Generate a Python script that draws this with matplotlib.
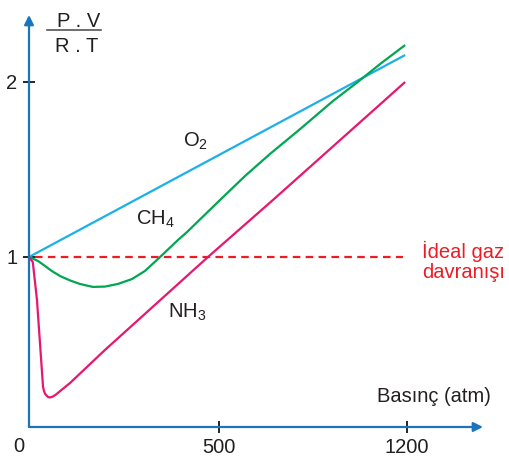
import numpy as np
import matplotlib
matplotlib.use("Agg")
import matplotlib.pyplot as plt
from matplotlib.lines import Line2D

plt.rcParams['font.family'] = ['Liberation Sans', 'DejaVu Sans']
plt.rcParams['mathtext.fontset'] = 'custom'
plt.rcParams['mathtext.rm'] = 'Liberation Sans'
plt.rcParams['mathtext.it'] = 'Liberation Sans'

# data (pressure in atm, PV/RT)
o2_p = [0, 1193]
o2_z = [1.0, 2.154]

ch4_p = [0, 24, 42, 60, 82, 108, 134, 168, 200, 234, 271, 305, 342, 392, 416,
         504, 597, 690, 802, 924, 1014, 1100, 1193]
ch4_z = [1.0, 0.977, 0.949, 0.92, 0.891, 0.866, 0.846, 0.829, 0.831, 0.846, 0.874,
         0.92, 0.994, 1.097, 1.143, 1.326, 1.463, 1.589, 1.731, 1.891, 1.997,
         2.103, 2.211]

nh3_p = [0, 10, 21, 32, 37, 39.5, 42, 45, 50, 55, 63, 71, 82, 108, 200, 471, 701,
         1118, 1193]
nh3_z = [1.0, 0.971, 0.754, 0.411, 0.257, 0.234, 0.22, 0.211, 0.2, 0.197, 0.203,
         0.214, 0.234, 0.28, 0.469, 1.0, 1.326, 1.897, 2.0]

ideal_p = [16, 1185]
ideal_z = [1.0, 1.0]

x_ticks = [500, 1200]
x_labels = ["500", "1200"]
y_ticks = [1, 2]
y_labels = ["1", "2"]

BLUE_AX = "#1b75bc"
C_O2 = "#1cb0ea"
C_CH4 = "#00a651"
C_NH3 = "#e6176f"
C_IDEAL = "#ec1c24"
TXT = "#231f20"


# the pressure axis of the drawing is not linear
def fwd(x):
    x = np.asarray(x, float)
    return np.where(x <= 500, x * 190 / 500, 190 + (x - 500) * 188 / 700)


def inv(p):
    p = np.asarray(p, float)
    return np.where(p <= 190, p * 500 / 190, 500 + (p - 190) * 700 / 188)


W, H = 509, 462
fig = plt.figure(figsize=(W / 100, H / 100), dpi=100)
ax = fig.add_axes([0, 0, 1, 1])
ax.set_xscale('function', functions=(fwd, inv))
ax.set_xlim(float(inv(-29)), float(inv(480)))
ax.set_ylim(-30 / 175, (H - 30) / 175)

y_base = (432 - 427) / 175

for s in ax.spines.values():
    s.set_visible(False)
ax.spines['left'].set_position(('data', 0))
ax.spines['bottom'].set_position(('data', y_base))

# axes with arrows
ax.annotate("", xy=(float(inv(454)), y_base), xytext=(0, y_base),
            arrowprops=dict(arrowstyle='-|>', color=BLUE_AX, lw=1.6,
                            mutation_scale=14, shrinkA=0, shrinkB=0))
ax.annotate("", xy=(0, (462 - 15 - 30) / 175), xytext=(0, y_base),
            arrowprops=dict(arrowstyle='-|>', color=BLUE_AX, lw=1.6,
                            mutation_scale=14, shrinkA=0, shrinkB=0))

ax.plot(ideal_p, ideal_z, color=C_IDEAL, lw=1.6, ls=(0, (3.4, 2.4)))
ax.plot(o2_p, o2_z, color=C_O2, lw=1.6, solid_capstyle='butt')
ax.plot(ch4_p, ch4_z, color=C_CH4, lw=1.6, solid_capstyle='butt',
        solid_joinstyle='round')
ax.plot(nh3_p, nh3_z, color=C_NH3, lw=1.6, solid_capstyle='butt',
        solid_joinstyle='round')

ax.set_xticks(x_ticks, x_labels)
ax.set_yticks(y_ticks, y_labels)
ax.minorticks_off()
ax.tick_params(axis='both', direction='inout', length=8.5, width=1.2,
               color='black', labelsize=14.5, labelcolor=TXT)
ax.tick_params(axis='x', pad=4)
ax.tick_params(axis='y', pad=4)


def ftext(x, y, s, **kw):
    fig.text(x / W, 1 - y / H, s, fontsize=14.5, color=kw.pop('color', TXT),
             va='baseline', **kw)


ftext(13, 452, "0")
ftext(377, 402, "Basınç (atm)")
ftext(183, 147, r"$\mathrm{O_2}$")
ftext(136, 225, r"$\mathrm{CH_4}$")
ftext(168, 318, r"$\mathrm{NH_3}$")
ftext(422, 258, "İdeal gaz", color=C_IDEAL)
ftext(422, 278, "davranışı", color=C_IDEAL)

# P.V / R.T label
ftext(57, 27, "P . V")
ftext(55, 52, "R . T")
fig.add_artist(Line2D([47 / W, 101 / W], [1 - 30 / H, 1 - 30 / H],
                      color="#555555", lw=1.2))

fig.savefig("out.png", dpi=100)
